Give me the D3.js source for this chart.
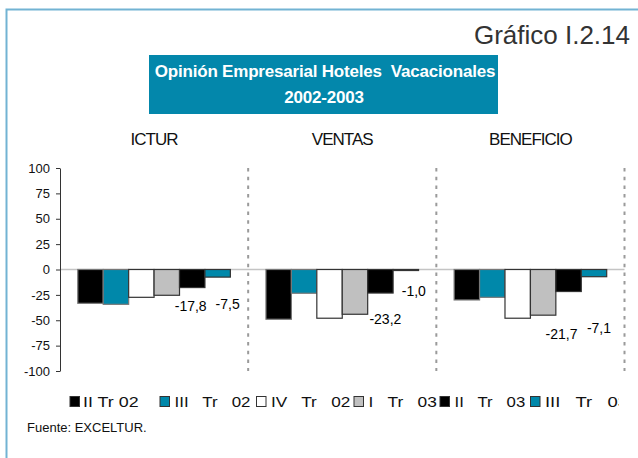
<!DOCTYPE html>
<html>
<head>
  <meta charset="utf-8">
  <title>Opinión Empresarial Hoteles Vacacionales</title>
  <script src="https://d3js.org/d3.v7.min.js"></script>
  <style>
    body { margin: 0; background: #fff; }
    svg { display: block; font-family: "Liberation Sans", Arial, sans-serif; }
  </style>
</head>
<body>
  <svg width="638" height="458"></svg>
  <script>
    // data
    var panels = ["ICTUR", "VENTAS", "BENEFICIO"];
    var seriesNames = ["II Tr 02", "III Tr 02", "IV Tr 02", "I Tr 03", "II Tr 03", "III Tr 03"];
    var ictur = [-33.3, -34.3, -27.4, -25.4, -17.8, -7.5];
    var ventas = [-49.0, -23.4, -48.0, -44.1, -23.2, -1.0];
    var beneficio = [-30.0, -27.4, -48.0, -45.0, -21.7, -7.1];
    var yTicks = [100, 75, 50, 25, 0, -25, -50, -75, -100];
    var labeledSeries = [4, 5];

    var colors = ["#000000", "#0088aa", "#ffffff", "#c0c0c0", "#000000", "#0088aa"];
    var panelValues = [ictur, ventas, beneficio];

    var svg = d3.select("svg");

    // outer frame
    svg.append("rect")
        .attr("x", 6.5).attr("y", 9.5)
        .attr("width", 700).attr("height", 500)
        .attr("fill", "none")
        .attr("stroke", "#72b3d3")
        .attr("stroke-width", 2);

    svg.append("text")
        .attr("x", 630).attr("y", 44)
        .attr("text-anchor", "end")
        .attr("font-size", 26)
        .attr("fill", "#333")
        .text("Gráfico I.2.14");

    // title box
    svg.append("rect")
        .attr("x", 149).attr("y", 55)
        .attr("width", 349).attr("height", 59)
        .attr("fill", "#0387ab");

    svg.append("text")
        .attr("x", 325).attr("y", 77)
        .attr("text-anchor", "middle")
        .attr("font-size", 17)
        .attr("font-weight", "bold")
        .attr("letter-spacing", -0.2)
        .attr("fill", "#fff")
        .style("white-space", "pre")
        .text("Opinión Empresarial Hoteles  Vacacionales");

    svg.append("text")
        .attr("x", 324).attr("y", 103)
        .attr("text-anchor", "middle")
        .attr("font-size", 17)
        .attr("font-weight", "bold")
        .attr("letter-spacing", -0.2)
        .attr("fill", "#fff")
        .text("2002-2003");

    // scales
    var x0 = d3.scaleBand()
        .domain(panels)
        .range([60, 624.5])
        .padding(0);

    var x1 = d3.scaleBand()
        .domain(d3.range(seriesNames.length))
        .range([0, x0.bandwidth()])
        .paddingInner(0)
        .paddingOuter(0.7);

    var y = d3.scaleLinear()
        .domain([-100, 100])
        .range([371, 168]);

    // panel titles
    svg.selectAll(".ptitle")
        .data(panels)
      .enter().append("text")
        .attr("class", "ptitle")
        .attr("x", function(d) { return x0(d) + x0.bandwidth() / 2; })
        .attr("y", 145)
        .attr("text-anchor", "middle")
        .attr("font-size", 17)
        .attr("letter-spacing", -1)
        .attr("fill", "#111")
        .text(function(d) { return d; });

    // zero line
    svg.append("line")
        .attr("x1", 60).attr("x2", 624.5)
        .attr("y1", y(0)).attr("y2", y(0))
        .attr("stroke", "#c4c4c4")
        .attr("stroke-width", 1.5);

    // dashed panel separators
    svg.selectAll(".sep")
        .data(panels)
      .enter().append("line")
        .attr("class", "sep")
        .attr("x1", function(d) { return x0(d) + x0.bandwidth(); })
        .attr("x2", function(d) { return x0(d) + x0.bandwidth(); })
        .attr("y1", y(100)).attr("y2", y(-100))
        .attr("stroke", "#9a9a9a")
        .attr("stroke-width", 2)
        .attr("stroke-dasharray", "3.5,5.2");

    // y axis
    var yAxis = svg.append("g")
        .attr("transform", "translate(60,0)")
        .call(d3.axisLeft(y)
          .tickValues(yTicks)
          .tickSize(4)
          .tickSizeOuter(0)
          .tickPadding(6)
          .tickFormat(function(d) { return String(d); }));
    yAxis.select(".domain").attr("stroke", "#333");
    yAxis.selectAll(".tick line").attr("stroke", "#333");
    yAxis.selectAll(".tick text")
        .attr("font-family", "Liberation Sans, Arial, sans-serif")
        .attr("font-size", 13)
        .attr("fill", "#111");

    // bars
    var groups = svg.selectAll(".panel")
        .data(panels)
      .enter().append("g")
        .attr("class", "panel")
        .attr("transform", function(d) { return "translate(" + x0(d) + ",0)"; });

    groups.selectAll("rect")
        .data(function(d, i) {
          return panelValues[i].map(function(v, j) { return {s: j, v: v}; });
        })
      .enter().append("rect")
        .attr("x", function(d) { return x1(d.s); })
        .attr("y", function(d) { return y(Math.max(0, d.v)); })
        .attr("width", x1.bandwidth())
        .attr("height", function(d) { return Math.abs(y(d.v) - y(0)); })
        .attr("fill", function(d) { return colors[d.s]; })
        .attr("stroke", function(d) { return d.s === 0 || d.s === 1 ? "#777" : "#333"; })
        .attr("stroke-width", 1.2);

    // data labels (hand placed in the original, nudged from the bar end)
    var labelNudge = [
      [[-1.5, 19], [10, 27]],
      [[5, 26.5], [8, 20.5]],
      [[-7, 42.5], [5, 51]]
    ];
    groups.each(function(p, i) {
      var g = d3.select(this);
      labeledSeries.forEach(function(s, k) {
        var v = panelValues[i][s];
        g.append("text")
            .attr("x", x1(s) + x1.bandwidth() / 2 + labelNudge[i][k][0])
            .attr("y", y(v) + labelNudge[i][k][1])
            .attr("dy", "0.35em")
            .attr("text-anchor", "middle")
            .attr("font-size", 14)
            .attr("fill", "#000")
            .text(v.toFixed(1).replace(".", ","));
      });
    });

    // legend (stretched text as in the original)
    var legendX = [69.5, 159.5, 256, 353.5, 439.5, 530];
    var legendTextW = [55.6, 76, 79.3, 68.4, 70.7, 83];
    svg.append("clipPath").attr("id", "lclip")
      .append("rect").attr("x", 0).attr("y", 380).attr("width", 619).attr("height", 40);

    var legend = svg.append("g").attr("clip-path", "url(#lclip)");
    var items = legend.selectAll(".item")
        .data(seriesNames)
      .enter().append("g")
        .attr("class", "item")
        .attr("transform", function(d, i) { return "translate(" + legendX[i] + ",0)"; });

    items.append("rect")
        .attr("x", 0.5).attr("y", 396.5)
        .attr("width", 9.5).attr("height", 10)
        .attr("fill", function(d, i) { return colors[i]; })
        .attr("stroke", "#333")
        .attr("stroke-width", 1);

    items.append("text")
        .attr("x", function(d, i) { return i === 0 ? 13.5 : 15; })
        .attr("y", 407)
        .attr("font-size", 14)
        .attr("fill", "#111")
        .style("white-space", "pre")
        .attr("textLength", function(d, i) { return legendTextW[i]; })
        .attr("lengthAdjust", "spacingAndGlyphs")
        .text(function(d, i) { return i === 0 ? d : d.split(" ").join("   "); });

    svg.append("text")
        .attr("x", 27).attr("y", 432)
        .attr("font-size", 13)
        .attr("fill", "#111")
        .text("Fuente: EXCELTUR.");
  </script>
</body>
</html>
